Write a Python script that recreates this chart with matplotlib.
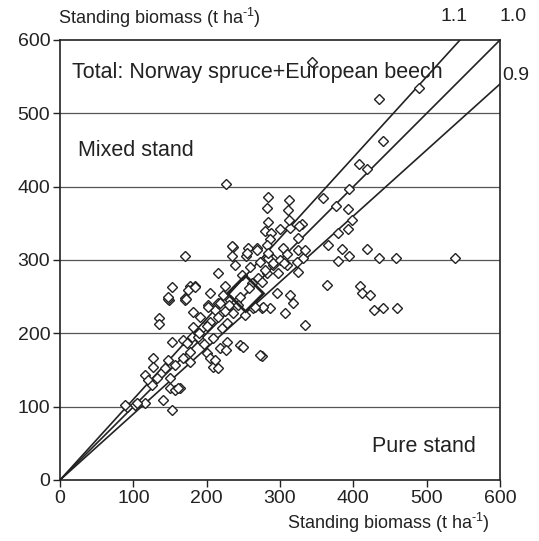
import matplotlib.pyplot as plt

plt.rcParams['font.family'] = ['Liberation Sans', 'DejaVu Sans']
plt.rcParams['mathtext.fontset'] = 'custom'
plt.rcParams['mathtext.rm'] = 'Liberation Sans'

# pure stand (x) vs mixed stand (y), t/ha
pure = [344, 490, 435, 441, 408, 419, 394, 359, 376, 393, 398, 393, 379, 330,
        419, 366, 379, 385, 394, 435, 458, 539, 326, 312, 311, 284, 282, 284, 314, 304,
        325, 331, 291, 325, 364, 409, 412, 423, 314, 296, 428, 441, 459, 334, 275,
        318, 286, 307, 275,
        226, 312, 280, 288, 300, 325, 286, 236, 256, 268, 282, 334, 170, 235, 253, 284,
        239, 259, 273, 291, 309, 323, 216, 248, 282, 297, 225, 177, 184, 170, 205, 222,
        277, 263, 252, 181, 202, 211, 216, 232, 191, 205, 195, 182, 221, 228, 168, 180,
        191, 209, 228, 218, 245, 250, 273, 177, 200,
        135, 135, 149, 170, 202, 218, 153, 173, 188, 127, 147, 168, 127, 143, 157, 177,
        116, 120, 132, 150, 125, 150, 157, 164, 141, 153, 116, 102, 91, 205, 209, 89,
        105, 161, 153, 147, 175, 184, 172, 216, 211, 227, 266, 234, 255, 269, 284, 147,
        190, 200, 215, 225, 240, 262, 270, 280, 290, 300, 310, 196, 236, 246, 258, 230,
        275, 305, 243]
mixed = [570, 535, 520, 462, 431, 424, 397, 385, 374, 370, 355, 342, 337, 349,
         315, 320, 299, 315, 305, 303, 303, 303, 346, 382, 368, 386, 371, 352, 344, 316,
         313, 303, 301, 284, 266, 264, 255, 252, 252, 255, 232, 234, 234, 211, 169,
         241, 234, 228, 234,
         404, 355, 340, 337, 342, 330, 329, 318, 316, 316, 320, 314, 305, 305, 305, 303,
         293, 291, 297, 293, 293, 297, 282, 280, 282, 282, 265, 264, 264, 248, 255, 252,
         236, 234, 225, 229, 239, 232, 241, 245, 222, 215, 209, 209, 207, 214, 191, 195,
         191, 194, 188, 180, 184, 182, 170, 175, 173,
         221, 213, 245, 245, 236, 241, 188, 187, 195, 166, 164, 166, 154, 153, 157, 161,
         143, 136, 139, 139, 130, 125, 123, 125, 109, 95, 105, 102, 99, 166, 154, 102,
         105, 125, 263, 247, 259, 263, 247, 153, 164, 177, 236, 319, 310, 314, 310, 250,
         200, 210, 222, 230, 243, 268, 276, 286, 296, 300, 308, 186, 228, 250, 262, 238,
         270, 296, 238]
mean_pure, mean_mixed = 252, 255

ratios = [1.1, 1.0, 0.9]

ink = '#222222'
fig = plt.figure(figsize=(5.39, 5.41), dpi=100)
ax = fig.add_axes([60/539, 61/541, 440/539, 440/541])

for y in [100, 200, 300, 400, 500]:
    ax.axhline(y, color='#555555', lw=0.9, zorder=1)

for r in ratios:
    xe = min(600, 600 / r)
    ax.plot([0, xe], [0, r * xe], color=ink, lw=1.2, zorder=2)

ax.plot(pure, mixed, 'D', ms=5.5, mfc='white', mec=ink, mew=1.0, zorder=3)
ax.plot([mean_pure], [mean_mixed], 'D', ms=18, mfc='none', mec=ink, mew=2.0, zorder=4)

ax.set_xlim(0, 600)
ax.set_ylim(0, 600)
ax.set_xticks(range(0, 601, 100))
ax.set_yticks(range(0, 601, 100))
ax.tick_params(labelsize=14, direction='out', length=5, width=1, pad=2, colors=ink)
for s in ax.spines.values():
    s.set_linewidth(1.2)
    s.set_color(ink)

fs = 15.5
ax.text(16, 556, 'Total: Norway spruce+European beech', fontsize=fs, va='center', color=ink)
ax.text(25, 450, 'Mixed stand', fontsize=fs, va='center', color=ink)
ax.text(567, 46, 'Pure stand', fontsize=fs, va='center', ha='right', color=ink)

ax.text(537, 620, '1.1', fontsize=14, ha='center', va='bottom', color=ink)
ax.text(618, 620, '1.0', fontsize=14, ha='center', va='bottom', color=ink)
ax.text(603, 552, '0.9', fontsize=14, ha='left', va='center', color=ink)

label = r'Standing biomass (t ha$^{\text{-1}}$)'
fig.text(58/539, 1 - 18/541, label, fontsize=13, va='center', color=ink)
fig.text(490/539, 1 - 523/541, label, fontsize=13, va='center', ha='right', color=ink)

fig.savefig('out.png', dpi=100)
